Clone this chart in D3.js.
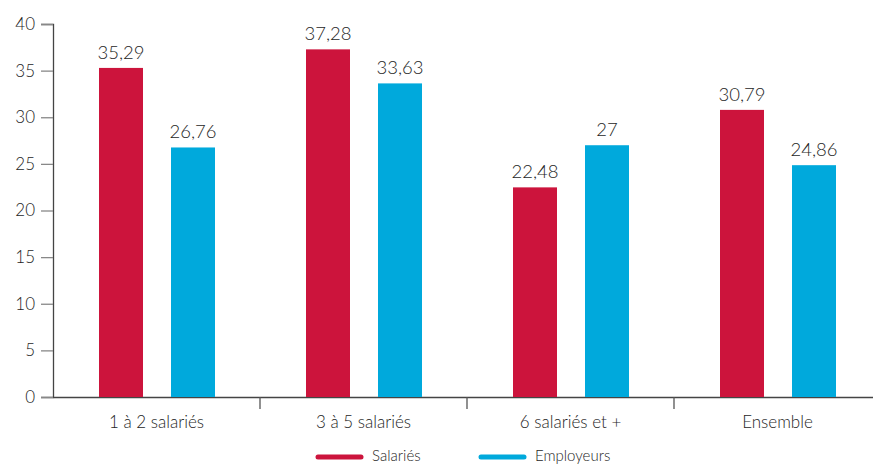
<!DOCTYPE html>
<html>
<head>
<meta charset="utf-8">
<script src="https://cdn.jsdelivr.net/npm/d3@7/dist/d3.min.js"></script>
<style>
  html, body { margin: 0; padding: 0; background: #fff; }
  svg { display: block; font-family: Lato, "Open Sans", sans-serif; font-weight: 300; }
</style>
</head>
<body>
<svg id="chart" width="873" height="464"></svg>
<script>
// Categories, series and tick values
const categories = ["1 à 2 salariés", "3 à 5 salariés", "6 salariés et +", "Ensemble"];
const seriesNames = ["Salariés", "Employeurs"];
const salaries = [35.29, 37.28, 22.48, 30.79];
const employeurs = [26.76, 33.63, 27, 24.86];
const yTicks = [0, 5, 10, 15, 20, 25, 30, 35, 40];
const colors = ["#CC143C", "#00A9DC"];

const svg = d3.select("#chart");
const margin = { left: 53, top: 24, bottom: 67 };
const height = 464;
const bandW = 207;

const x = d3.scaleBand()
  .domain(categories)
  .range([margin.left, margin.left + bandW * categories.length])
  .paddingInner(0).paddingOuter(0);

const y = d3.scaleLinear().domain([0, 40]).range([height - margin.bottom, margin.top]);

const xSub = d3.scaleBand()
  .domain(seriesNames)
  .range([46, 162])
  .paddingInner(28 / 72);

const textColor = "#1e1e1e";
const fmt = v => String(v).replace(".", ",");

// Y axis
const yAxis = svg.append("g")
  .attr("transform", `translate(${margin.left},0)`)
  .call(d3.axisLeft(y).tickValues(yTicks).tickSize(12).tickPadding(6).tickFormat(d => d));
yAxis.select(".domain").attr("stroke", "#444").attr("stroke-width", 1.3);
yAxis.selectAll(".tick line").attr("stroke", "#888").attr("stroke-width", 1.3);
yAxis.selectAll(".tick text").attr("fill", textColor).attr("font-size", 17);

// X axis
const xAxis = svg.append("g")
  .attr("transform", `translate(0,${y(0)})`)
  .call(d3.axisBottom(x).tickSize(0).tickPadding(19));
xAxis.select(".domain").attr("stroke", "#444").attr("stroke-width", 1.3);
xAxis.selectAll(".tick text").attr("fill", textColor).attr("font-size", 17);
svg.selectAll("g").attr("font-family", null);

// Separators between categories
svg.append("g").selectAll("line")
  .data(categories.slice(1))
  .join("line")
  .attr("x1", d => x(d)).attr("x2", d => x(d))
  .attr("y1", y(0)).attr("y2", y(0) + 12)
  .attr("stroke", "#555").attr("stroke-width", 1.3);

// Bars
const rows = categories.map((c, i) => ({ cat: c, vals: [salaries[i], employeurs[i]] }));
const groups = svg.append("g").selectAll("g")
  .data(rows)
  .join("g")
  .attr("transform", d => `translate(${x(d.cat)},0)`);

groups.selectAll("rect")
  .data(d => d.vals.map((v, j) => ({ name: seriesNames[j], v, j })))
  .join("rect")
  .attr("x", d => xSub(d.name))
  .attr("width", xSub.bandwidth())
  .attr("y", d => y(d.v))
  .attr("height", d => y(0) - y(d.v))
  .attr("fill", d => colors[d.j]);

groups.selectAll("text")
  .data(d => d.vals.map((v, j) => ({ name: seriesNames[j], v, j })))
  .join("text")
  .attr("x", d => xSub(d.name) + xSub.bandwidth() / 2)
  .attr("y", d => y(d.v) - 9)
  .attr("text-anchor", "middle")
  .attr("font-size", 18.5)
  .attr("fill", textColor)
  .text(d => fmt(d.v));

// Legend
const legendX = [318, 481];
const legend = svg.append("g").selectAll("g")
  .data(seriesNames)
  .join("g")
  .attr("transform", (d, i) => `translate(${legendX[i]},457)`);
legend.append("line")
  .attr("x1", 0).attr("x2", 43)
  .attr("stroke", (d, i) => colors[i])
  .attr("stroke-width", 5)
  .attr("stroke-linecap", "round");
legend.append("text")
  .attr("x", 54).attr("y", 3.5)
  .attr("font-size", 15)
  .attr("fill", textColor)
  .text(d => d);
</script>
</body>
</html>
